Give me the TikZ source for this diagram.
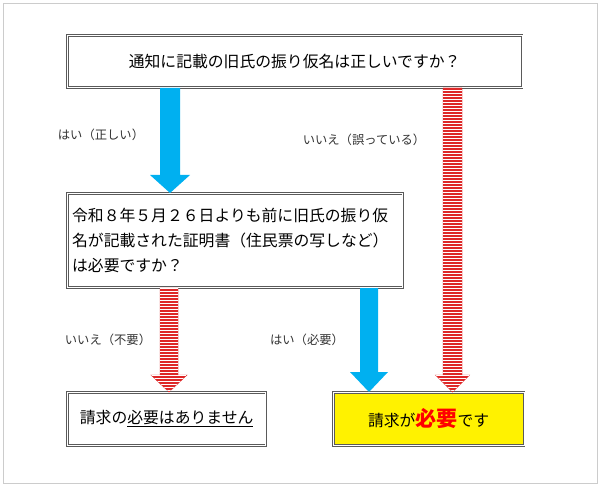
\documentclass[tikz,border=0pt]{standalone}
\usepackage{fontspec}
\setmainfont{Noto Sans CJK JP}
\usetikzlibrary{positioning}
\definecolor{askblue}{RGB}{0,176,240}
\definecolor{stripered}{RGB}{222,40,40}
\definecolor{boxgray}{RGB}{90,90,90}
\tikzset{
  qbox/.style={rectangle,draw=boxgray,double=white,double distance=0.6pt,thick,inner sep=4pt},
  lbl/.style={font=\fontsize{10.5}{12}\selectfont,text=black!80},
  bluearrow/.style={fill=askblue,draw=none},
  redarrow/.style={fill=stripered,draw=stripered,thin}
}
% fat arrow outline: x, top y, tip y, half shaft, half head, head length
\newcommand{\arrowpath}[6]{(#1-#4,#2) -- (#1+#4,#2) -- (#1+#4,#3-#6) -- (#1+#5,#3-#6)
    -- (#1,#3) -- (#1-#5,#3-#6) -- (#1-#4,#3-#6) -- cycle}
\newcommand{\fatarrow}[7][]{\path[#1] \arrowpath{#2}{#3}{#4}{#5}{#6}{#7};}
\newcommand{\stripearrow}[6]{%
  \path[redarrow] \arrowpath{#1}{#2}{#3}{#4}{#5}{#6};
  \begin{scope}
    \clip \arrowpath{#1}{#2}{#3}{#4}{#5}{#6};
    \foreach \yy in {#2,...,#3} {\pgfmathparse{mod(\yy,3)==0}
      \ifnum\pgfmathresult=1 \draw[white,line width=0.8pt] (#1-#5,\yy) -- (#1+#5,\yy);\fi}
  \end{scope}}
\begin{document}
\begin{tikzpicture}[x=0.03cm,y=-0.03cm]
\useasboundingbox (0,0) rectangle (600,489);
\draw[black!20] (3,3) rectangle (597,483);

\node[qbox,text width=445*0.03cm,minimum height=52*0.03cm,align=center,anchor=north west,font=\fontsize{13.5}{16}\selectfont] (q1) at (67,35) {通知に記載の旧氏の振り仮名は正しいですか？};
\node[qbox,text width=326*0.03cm,minimum height=94*0.03cm,align=left,anchor=north west,font=\fontsize{13.5}{21}\selectfont] (q2) at (67,193) {令和８年５月２６日よりも前に旧氏の振り仮\\名が記載された証明書（住民票の写しなど）\\は必要ですか？};
\node[qbox,text width=189*0.03cm,minimum height=53*0.03cm,align=center,anchor=north west,font=\fontsize{13.5}{16}\selectfont] (no) at (67,392) {請求の\underline{必要はありません}};
\node[qbox,fill=yellow,text width=181*0.03cm,minimum height=53*0.03cm,align=center,anchor=north west,font=\fontsize{13.5}{16}\selectfont] (yes) at (333,392) {請求が{\fontsize{18}{20}\selectfont\bfseries\color{red}必要}です};

% arrows between boxes
\fatarrow[bluearrow]{170}{88}{193}{10}{20}{18}
\stripearrow{169}{288}{392}{9}{18}{17}
\fatarrow[bluearrow]{369}{288}{392}{9}{19}{20}
\stripearrow{452.5}{88}{392}{9.5}{17}{17}

\node[lbl] (l1) at (101,135) {はい（正しい）};
\node[lbl] (l2) at (364,140) {いいえ（誤っている）};
\node[lbl] (l3) at (108,340) {いいえ（不要）};
\node[lbl] (l4) at (307,340) {はい（必要）};
\end{tikzpicture}
\end{document}
